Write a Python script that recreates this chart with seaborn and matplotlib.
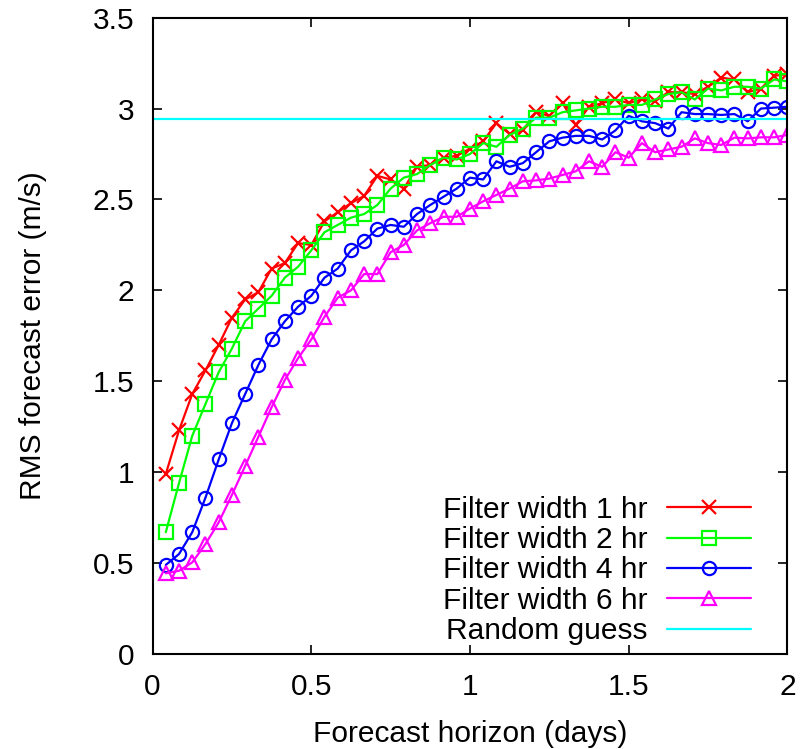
import numpy as np
import pandas as pd
import matplotlib
matplotlib.use("Agg")
import matplotlib.pyplot as plt
import seaborn as sns

# forecast horizon in days (hourly steps)
days = [k / 24 for k in range(1, 49)]

rms_1hr = [0.99, 1.23, 1.43, 1.56, 1.70, 1.85, 1.95, 1.99, 2.12, 2.15,
           2.26, 2.25, 2.38, 2.43, 2.48, 2.52, 2.63, 2.61, 2.56, 2.68,
           2.69, 2.73, 2.74, 2.78, 2.82, 2.92, 2.86, 2.88, 2.98, 2.96,
           3.03, 2.91, 3.01, 3.03, 3.05, 3.03, 3.05, 3.04, 3.09, 3.09,
           3.08, 3.12, 3.17, 3.16, 3.09, 3.11, 3.18, 3.19]
rms_2hr = [0.67, 0.94, 1.20, 1.375, 1.55, 1.68, 1.83, 1.90, 1.97, 2.07,
           2.13, 2.22, 2.32, 2.36, 2.40, 2.42, 2.47, 2.56, 2.62, 2.64,
           2.69, 2.73, 2.72, 2.75, 2.81, 2.79, 2.855, 2.89, 2.95, 2.95,
           2.98, 2.99, 3.00, 3.01, 3.01, 3.02, 3.02, 3.05, 3.08, 3.09,
           3.05, 3.11, 3.10, 3.12, 3.12, 3.11, 3.16, 3.15]
rms_4hr = [0.49, 0.55, 0.67, 0.86, 1.07, 1.27, 1.43, 1.59, 1.73, 1.83,
           1.91, 1.97, 2.07, 2.12, 2.22, 2.27, 2.34, 2.36, 2.35, 2.42,
           2.47, 2.515, 2.56, 2.62, 2.61, 2.71, 2.68, 2.70, 2.76, 2.82,
           2.84, 2.85, 2.85, 2.83, 2.88, 2.96, 2.93, 2.92, 2.89, 2.98,
           2.97, 2.97, 2.965, 2.97, 2.93, 3.00, 3.005, 3.01]
rms_6hr = [0.444, 0.458, 0.504, 0.605, 0.724, 0.875, 1.034, 1.195, 1.357, 1.507,
           1.627, 1.73, 1.855, 1.96, 2.00, 2.09, 2.09, 2.21, 2.25, 2.33,
           2.37, 2.405, 2.405, 2.45, 2.49, 2.525, 2.56, 2.60, 2.605, 2.615,
           2.635, 2.655, 2.71, 2.68, 2.76, 2.73, 2.81, 2.76, 2.775, 2.79,
           2.836, 2.81, 2.80, 2.84, 2.836, 2.842, 2.842, 2.855]
random_guess = 2.94

labels = ["Filter width 1 hr", "Filter width 2 hr", "Filter width 4 hr", "Filter width 6 hr"]
colors = ["#ff0000", "#00ff00", "#0000ff", "#ff00ff"]
markers = ["x", "s", "o", "^"]

sns.set_style("ticks")
plt.rcParams['font.family'] = ['Liberation Sans', 'DejaVu Sans']
plt.rcParams['text.color'] = 'black'
plt.rcParams['axes.labelcolor'] = 'black'
plt.rcParams['xtick.color'] = 'black'
plt.rcParams['ytick.color'] = 'black'

fig = plt.figure(figsize=(8.03, 7.49), dpi=100)
ax = fig.add_axes([0.190, 0.1268, 0.7905, 0.8496])

for vals, lab, col, mk in zip([rms_1hr, rms_2hr, rms_4hr, rms_6hr], labels, colors, markers):
    sns.lineplot(x=days, y=vals, ax=ax, color=col, label=lab, marker=mk,
                 markersize=9.5 if mk != "x" else 10.5, markerfacecolor="none",
                 markeredgecolor=col, markeredgewidth=1.6, linewidth=1.6)

ax.axhline(random_guess, color="#00ffff", linewidth=1.6, label="Random guess")

ax.set_xlim(0, 2)
ax.set_ylim(0, 3.5)
ax.set_xticks([0, 0.5, 1, 1.5, 2])
ax.set_xticklabels(["0", "0.5", "1", "1.5", "2"])
ax.set_yticks([0, 0.5, 1, 1.5, 2, 2.5, 3, 3.5])
ax.set_yticklabels(["0", "0.5", "1", "1.5", "2", "2.5", "3", "3.5"])
ax.tick_params(direction="in", length=6.5, width=1.2, labelsize=21.5,
               top=True, right=True, colors="black")
ax.tick_params(axis="x", pad=14)
ax.tick_params(axis="y", pad=13)
for s in ax.spines.values():
    s.set_visible(True)
    s.set_linewidth(1.5)
    s.set_color("black")

ax.set_xlabel("Forecast horizon (days)", fontsize=21.5, labelpad=13.5)
ax.set_ylabel("RMS forecast error (m/s)", fontsize=21.5, labelpad=33)

ax.legend(loc="lower right", bbox_to_anchor=(0.961, -0.005), frameon=False,
          fontsize=21.5, markerfirst=False, handlelength=2.8, handletextpad=0.65,
          labelspacing=0.08, borderaxespad=0.0)

fig.savefig("out.png", dpi=100)
